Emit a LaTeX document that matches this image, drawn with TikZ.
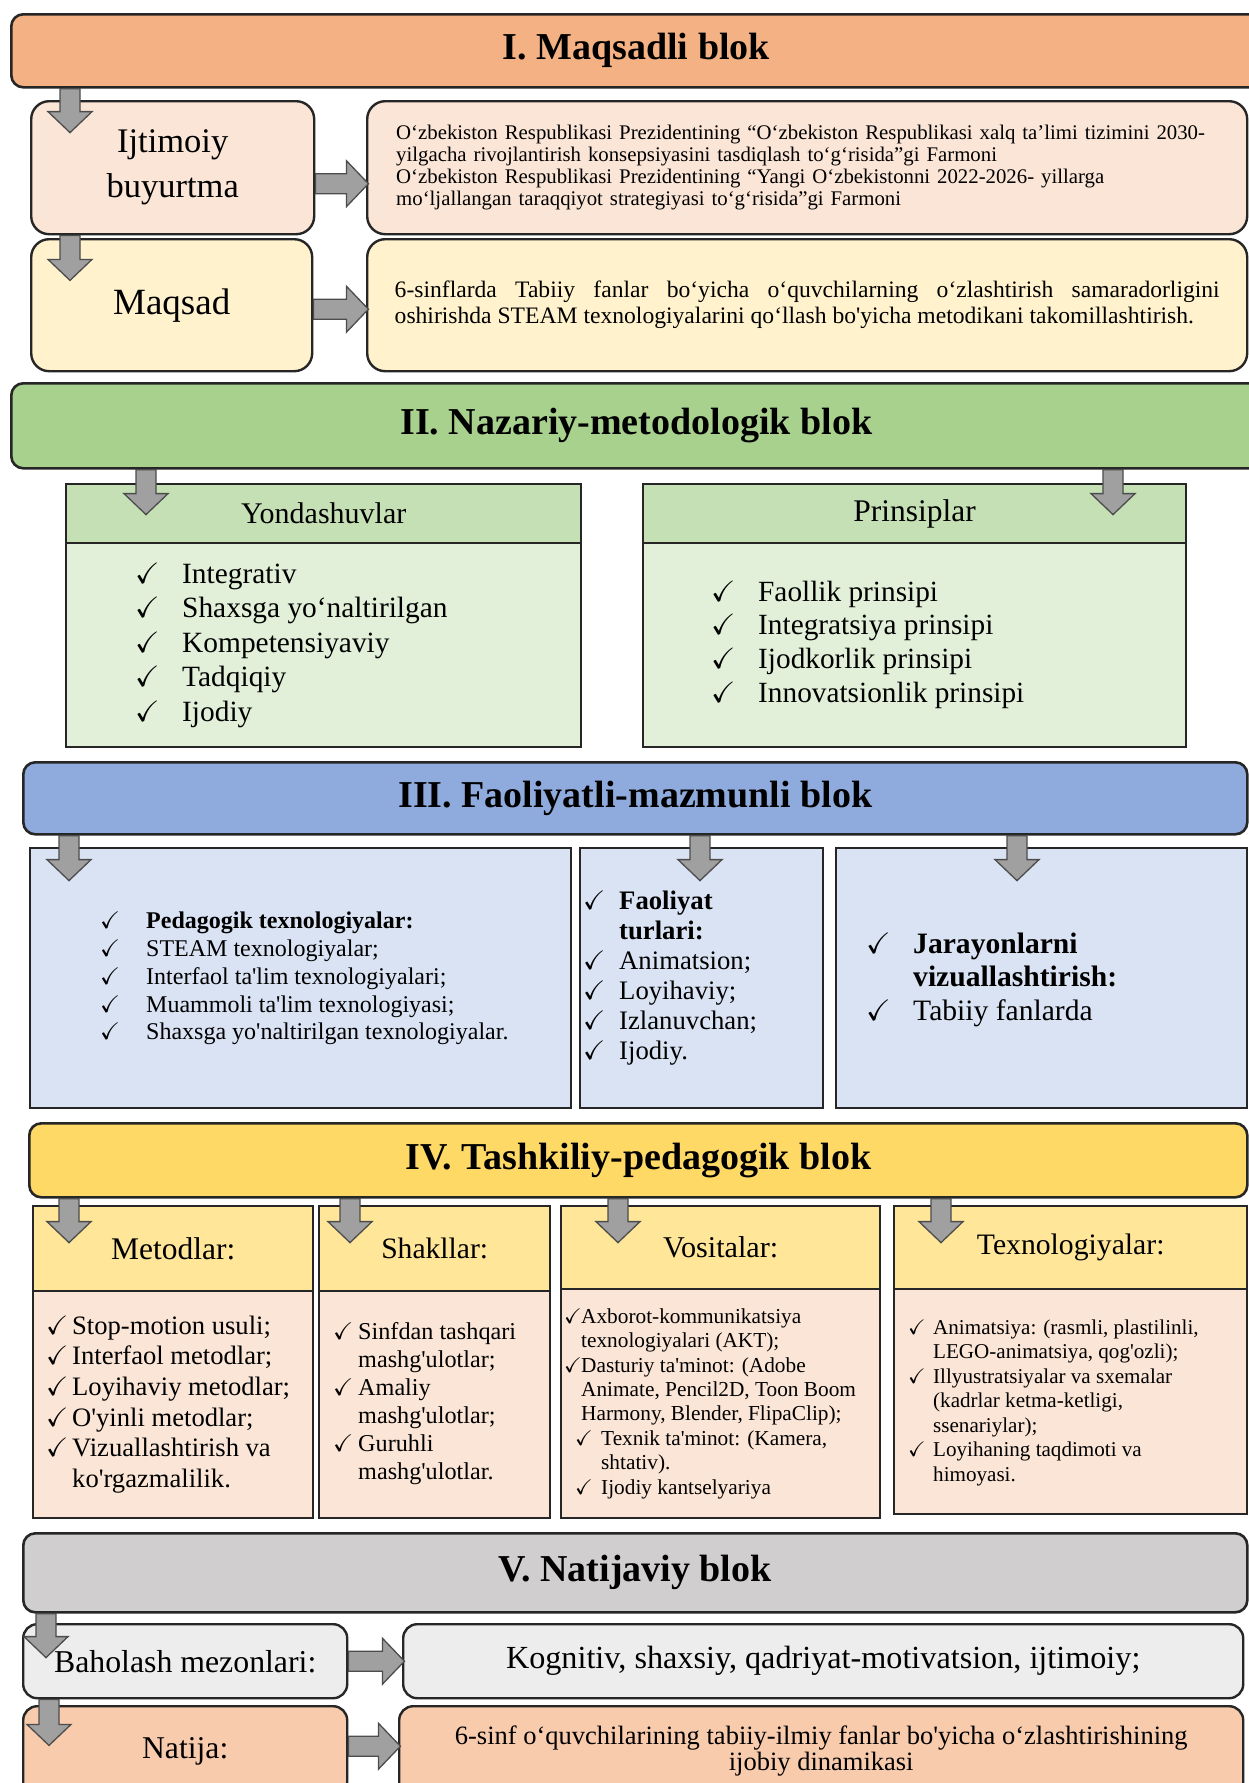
\documentclass[tikz,border=0pt]{standalone}
\usepackage{amssymb}
\usepackage{fontspec}
\setmainfont{Liberation Serif}[Ligatures=TeXOff]
\usepackage{tikz}
\usetikzlibrary{positioning,calc}

\definecolor{orgA}{HTML}{F4B183}
\definecolor{orgB}{HTML}{FBE5D6}
\definecolor{ylwB}{HTML}{FFF2CC}
\definecolor{grnA}{HTML}{A9D18E}
\definecolor{grnB}{HTML}{C5E0B4}
\definecolor{grnC}{HTML}{E2F0D9}
\definecolor{bluA}{HTML}{8FAADC}
\definecolor{bluB}{HTML}{DAE3F3}
\definecolor{goldA}{HTML}{FFD966}
\definecolor{goldB}{HTML}{FFE699}
\definecolor{gryA}{HTML}{D0CECE}
\definecolor{gryB}{HTML}{EDEDED}
\definecolor{pchB}{HTML}{F8CBAD}
\definecolor{arrgray}{HTML}{A0A0A0}

\newcommand{\chk}[1]{\makebox[#1pt][l]{$\checkmark$}}
\newcommand{\fsz}[2]{\fontsize{#1pt}{#2pt}\selectfont}
% block arrows: start point, length
\newcommand{\darr}[2]{\draw[blkarrow] #1 ++(-10,0) -- ++(0,{#2-21}) -- ++(-12,0) -- ++(22,21) -- ++(22,-21) -- ++(-12,0) -- ++(0,{21-#2}) -- cycle;}
\newcommand{\rarr}[2]{\draw[blkarrow] #1 ++(0,-10) -- ++({#2-22},0) -- ++(0,-13) -- ++(22,23) -- ++(-22,23) -- ++(0,-13) -- ++({22-#2},0) -- cycle;}

\begin{document}
\begin{tikzpicture}[x=1pt,y=-1pt,
	blk/.style={draw=black!85,line width=2.6pt,rounded corners=12pt,inner sep=0pt,anchor=north west,font=\fsz{38}{44}\bfseries},
	rbox/.style={draw=black!85,line width=2.4pt,rounded corners=18pt,inner sep=0pt,anchor=north west},
	sbox/.style={draw=black!85,line width=2.4pt,inner sep=0pt,anchor=north west},
	lst/.style={inner sep=0pt,anchor=west,align=left},
	blkarrow/.style={fill=arrgray,draw=black!70,line width=1.3pt}]
	\useasboundingbox (0,0) rectangle (1248,1783);
	
	% I. Maqsadli blok
	\node[blk,fill=orgA,minimum width=1250pt,minimum height=73pt] (mb) at (10,13) {I. Maqsadli blok};
	\node[rbox,fill=orgB,minimum width=283pt,minimum height=133pt,align=center,font=\fsz{34.5}{45}] (soc) at (30,100) {Ijtimoiy\\buyurtma};
	\node[rbox,fill=orgB,minimum width=880pt,minimum height=133pt,text width=822pt,align=left,font=\fsz{20.8}{22}] (dec) at (366,100) {O‘zbekiston Respublikasi Prezidentining “O‘zbekiston Respublikasi xalq ta’limi tizimini 2030-\\yilgacha rivojlantirish konsepsiyasini tasdiqlash to‘g‘risida”gi Farmoni\\O‘zbekiston Respublikasi Prezidentining “Yangi O‘zbekistonni 2022-2026- yillarga\\mo‘ljallangan taraqqiyot strategiyasi to‘g‘risida”gi Farmoni};
	\node[rbox,fill=ylwB,minimum width=281pt,minimum height=132pt,font=\fsz{37}{42}] (mq) at (30,238) {Maqsad};
	\node[rbox,fill=ylwB,minimum width=880pt,minimum height=132pt,text width=825pt,align=justify,font=\fsz{23.6}{26}] (goal) at (366,238) {6-sinflarda Tabiiy fanlar bo‘yicha o‘quvchilarning o‘zlashtirish samaradorligini\linebreak oshirishda STEAM texnologiyalarini qo‘llash bo'yicha metodikani takomillashtirish.};
	
	% II. Nazariy-metodologik blok
	\node[blk,fill=grnA,minimum width=1250pt,minimum height=85pt] (b2) at (10,382) {II. Nazariy-metodologik blok};
	\node[sbox,fill=grnB,minimum width=515pt,minimum height=59pt,font=\fsz{30}{34}] (yh) at (65,483) {Yondashuvlar};
	\node[sbox,fill=grnC,minimum width=515pt,minimum height=204pt] (yb) at (65,542) {};
	\node[sbox,fill=grnB,minimum width=543pt,minimum height=59pt,font=\fsz{31.5}{36}] (ph) at (642,483) {Prinsiplar};
	\node[sbox,fill=grnC,minimum width=543pt,minimum height=204pt] (pb) at (642,542) {};
	\node[lst,font=\fsz{29.4}{34.5}] (yl) at (135,645) {\chk{47}Integrativ\\\chk{47}Shaxsga yo‘naltirilgan\\\chk{47}Kompetensiyaviy\\\chk{47}Tadqiqiy\\\chk{47}Ijodiy};
	\node[lst,font=\fsz{29.3}{33.7}] (pl) at (711,644.5) {\chk{47}Faollik prinsipi\\\chk{47}Integratsiya prinsipi\\\chk{47}Ijodkorlik prinsipi\\\chk{47}Innovatsionlik prinsipi};
	
	% III. Faoliyatli-mazmunli blok
	\node[blk,fill=bluA,minimum width=1224pt,minimum height=72pt] (b3) at (22,761) {III. Faoliyatli-mazmunli blok};
	\node[sbox,fill=bluB,minimum width=541pt,minimum height=260pt] (pt) at (29,847) {};
	\node[sbox,fill=bluB,minimum width=243pt,minimum height=260pt] (ft) at (579,847) {};
	\node[sbox,fill=bluB,minimum width=411pt,minimum height=260pt] (vz) at (835,847) {};
	\node[lst,font=\fsz{24}{27.75}] (ptl) at (100,978.5) {\chk{46}\textbf{Pedagogik texnologiyalar:}\\\chk{46}STEAM texnologiyalar;\\\chk{46}Interfaol ta'lim texnologiyalari;\\\chk{46}Muammoli ta'lim texnologiyasi;\\\chk{46}Shaxsga yo'naltirilgan texnologiyalar.};
	\node[lst,font=\fsz{26.7}{30}] (ftl) at (583,978.5) {\chk{36}\textbf{Faoliyat}\\\hspace*{36pt}\textbf{turlari:}\\\chk{36}Animatsion;\\\chk{36}Loyihaviy;\\\chk{36}Izlanuvchan;\\\chk{36}Ijodiy.};
	\node[lst,font=\fsz{29.6}{33.5}] (vzl) at (866,979.5) {\chk{47}\textbf{Jarayonlarni}\\\hspace*{47pt}\textbf{vizuallashtirish:}\\\chk{47}Tabiiy fanlarda};
	
	% IV. Tashkiliy-pedagogik blok
	\node[blk,fill=goldA,minimum width=1218pt,minimum height=74pt] (b4) at (28,1122) {IV. Tashkiliy-pedagogik blok};
	\node[sbox,fill=goldB,minimum width=280pt,minimum height=85pt,font=\fsz{31.5}{36}] (mh) at (32,1205) {Metodlar:};
	\node[sbox,fill=orgB,minimum width=280pt,minimum height=227pt] (md) at (32,1290) {};
	\node[sbox,fill=goldB,minimum width=231pt,minimum height=85pt,font=\fsz{29.6}{34}] (sh) at (318,1205) {Shakllar:};
	\node[sbox,fill=orgB,minimum width=231pt,minimum height=227pt] (sd) at (318,1290) {};
	\node[sbox,fill=goldB,minimum width=319pt,minimum height=83pt,font=\fsz{30.2}{34}] (vh) at (560,1205) {Vositalar:};
	\node[sbox,fill=orgB,minimum width=319pt,minimum height=229pt] (vd) at (560,1288) {};
	\node[sbox,fill=goldB,minimum width=353pt,minimum height=83pt,font=\fsz{29.7}{34}] (th) at (893,1205) {Texnologiyalar:};
	\node[sbox,fill=orgB,minimum width=353pt,minimum height=225pt] (td) at (893,1288) {};
	\node[lst,font=\fsz{26.6}{30.6}] (ml) at (46,1404.5) {\chk{26}Stop-motion usuli;\\\chk{26}Interfaol metodlar;\\\chk{26}Loyihaviy metodlar;\\\chk{26}O'yinli metodlar;\\\chk{26}Vizuallashtirish va\\\hspace*{26pt}ko'rgazmalilik.};
	\node[lst,font=\fsz{24.2}{28}] (sl) at (333,1404) {\chk{25}Sinfdan tashqari\\\hspace*{25pt}mashg'ulotlar;\\\chk{25}Amaliy\\\hspace*{25pt}mashg'ulotlar;\\\chk{25}Guruhli\\\hspace*{25pt}mashg'ulotlar.};
	\node[lst,font=\fsz{21.3}{24.4}] (vl) at (564,1403.5) {\chk{17}Axborot-kommunikatsiya\\\hspace*{17pt}texnologiyalari (AKT);\\\chk{17}Dasturiy ta'minot: (Adobe\\\hspace*{17pt}Animate, Pencil2D, Toon Boom\\\hspace*{17pt}Harmony, Blender, FlipaClip);\\\hspace*{11pt}\chk{26}Texnik ta'minot: (Kamera,\\\hspace*{37pt}shtativ).\\\hspace*{11pt}\chk{26}Ijodiy kantselyariya};
	\node[lst,font=\fsz{21.1}{24.5}] (tl) at (908,1402.5) {\chk{25}Animatsiya: (rasmli, plastilinli,\\\hspace*{25pt}LEGO-animatsiya, qog'ozli);\\\chk{25}Illyustratsiyalar va sxemalar\\\hspace*{25pt}(kadrlar ketma-ketligi,\\\hspace*{25pt}ssenariylar);\\\chk{25}Loyihaning taqdimoti va\\\hspace*{25pt}himoyasi.};
	
	% V. Natijaviy blok
	\node[blk,fill=gryA,minimum width=1224pt,minimum height=79pt] (b5) at (22,1532) {V. Natijaviy blok};
	\node[rbox,fill=gryB,rounded corners=14pt,minimum width=324pt,minimum height=74pt,font=\fsz{31.8}{36}] (crit) at (22,1623) {Baholash mezonlari:};
	\node[rbox,fill=gryB,rounded corners=14pt,minimum width=840pt,minimum height=74pt,font=\fsz{32.2}{36}] (critv) at (402,1623) {Kognitiv, shaxsiy, qadriyat-motivatsion, ijtimoiy;};
	\node[rbox,fill=pchB,rounded corners=14pt,minimum width=324pt,minimum height=90pt,font=\fsz{31.7}{36}] (res) at (22,1705) {Natija:};
	\node[rbox,fill=pchB,rounded corners=14pt,minimum width=844pt,minimum height=90pt,align=center,font=\fsz{26.5}{26}] (resv) at (398,1705) {6-sinf o‘quvchilarining tabiiy-ilmiy fanlar bo'yicha o‘zlashtirishining\\ijobiy dinamikasi};
	
	% arrows
	\darr{($(mb.south west)+(60,0)$)}{44}
	\darr{($(soc.south west)+(40,0)$)}{45}
	\rarr{($(soc.east)+(0,16)$)}{53}
	\rarr{($(mq.east)+(0,4)$)}{55}
	\darr{($(b2.south west)+(136,0)$)}{45}
	\darr{($(b2.south west)+(1103,0)$)}{45}
	\darr{($(b3.south west)+(47,0)$)}{45}
	\darr{($(b3.south west)+(678,0)$)}{45}
	\darr{($(b3.south west)+(995,0)$)}{45}
	\darr{($(b4.south west)+(41,0)$)}{44}
	\darr{($(b4.south west)+(322,0)$)}{44}
	\darr{($(b4.south west)+(590,0)$)}{44}
	\darr{($(b4.south west)+(913,0)$)}{44}
	\darr{($(b5.south west)+(24,0)$)}{44}
	\darr{($(crit.south west)+(27,0)$)}{46}
	\rarr{(crit.east)}{56}
	\rarr{($(res.east)+(0,-5)$)}{52}
\end{tikzpicture}
\end{document}
